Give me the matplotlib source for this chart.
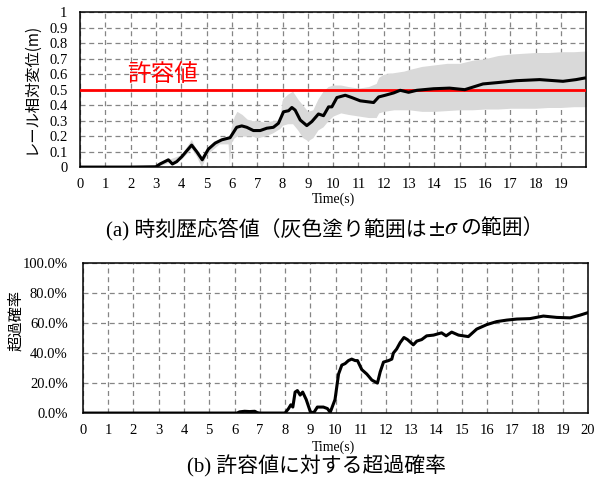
"""Rail relative displacement: time history with +/- sigma band, and exceedance probability."""
import matplotlib

matplotlib.use("Agg")
import matplotlib.pyplot as plt
from matplotlib.ticker import FuncFormatter, MultipleLocator, PercentFormatter

plt.rcParams.update({"font.family": ["Liberation Serif", "Noto Sans CJK JP"], "font.size": 10.5,
                     "mathtext.fontset": "stix"})
JP = ["Noto Sans CJK JP", "Liberation Serif"]

ALLOWABLE = 0.5

# mean response (m)
t_mean = [0, 2.0, 3.0, 3.16, 3.49, 3.65, 3.82, 4.02, 4.41, 4.61, 4.83, 5.07, 5.34, 5.6, 5.93,
          6.19, 6.39, 6.59, 6.85, 7.12, 7.38, 7.64, 7.84, 8.04, 8.24, 8.37, 8.5, 8.7, 8.96,
          9.16, 9.42, 9.62, 9.82, 9.95, 10.15, 10.48, 10.74, 11.07, 11.6, 11.8, 12.06, 12.39,
          12.65, 12.98, 13.31, 13.97, 14.6, 15.2, 15.92, 16.58, 17.24, 18.16, 19.08, 19.6, 19.93]
mean = [0, 0.0, 0.002, 0.02, 0.047, 0.02, 0.035, 0.067, 0.142, 0.10, 0.047, 0.116, 0.155, 0.176,
        0.19, 0.257, 0.266, 0.257, 0.236, 0.236, 0.251, 0.257, 0.283, 0.357, 0.364, 0.385, 0.368,
        0.304, 0.268, 0.294, 0.343, 0.332, 0.389, 0.389, 0.449, 0.464, 0.449, 0.428, 0.417, 0.453,
        0.464, 0.479, 0.496, 0.483, 0.496, 0.506, 0.51, 0.50, 0.537, 0.547, 0.558, 0.565, 0.554,
        0.565, 0.575]

# mean +/- sigma
t_band = [0, 3.0, 3.5, 4.0, 4.4, 4.6, 4.8, 5.0, 5.5, 5.85, 5.9, 5.95, 6.0, 6.1, 6.2, 6.4, 6.6,
          6.8, 7.0, 7.3, 7.6, 7.8, 7.9, 8.0, 8.2, 8.4, 8.6, 8.8, 9.0, 9.2, 9.4, 9.6, 9.8, 10.0,
          10.3, 10.6, 11.0, 11.4, 11.7, 11.8, 12.0, 12.4, 12.8, 13.0, 13.5, 14.0, 14.5, 15.0,
          15.5, 16.0, 16.5, 17.0, 17.5, 18.0, 18.5, 19.0, 19.5, 20.0]
band_hi = [0, 0.0, 0.05, 0.08, 0.18, 0.11, 0.06, 0.12, 0.17, 0.2, 0.2, 0.22, 0.28, 0.33, 0.36,
           0.34, 0.31, 0.30, 0.30, 0.29, 0.30, 0.30, 0.33, 0.44, 0.47, 0.49, 0.44, 0.40, 0.36,
           0.37, 0.44, 0.49, 0.52, 0.53, 0.53, 0.52, 0.51, 0.52, 0.54, 0.58, 0.60, 0.61, 0.62,
           0.63, 0.65, 0.66, 0.67, 0.67, 0.69, 0.70, 0.72, 0.73, 0.735, 0.74, 0.74, 0.745, 0.745,
           0.75]
band_lo = [0, 0.0, 0.03, 0.05, 0.12, 0.07, 0.0, 0.08, 0.15, 0.15, 0.02, 0.12, 0.17, 0.19, 0.2,
           0.2, 0.2, 0.2, 0.19, 0.2, 0.22, 0.24, 0.25, 0.27, 0.28, 0.28, 0.24, 0.19, 0.17, 0.19,
           0.24, 0.26, 0.30, 0.33, 0.35, 0.34, 0.33, 0.32, 0.32, 0.35, 0.36, 0.37, 0.37, 0.37,
           0.36, 0.36, 0.365, 0.37, 0.37, 0.375, 0.375, 0.38, 0.38, 0.38, 0.385, 0.385, 0.39, 0.39]

# probability of exceeding the allowable value (%)
t_prob = [0, 6.1, 6.2, 6.4, 6.6, 6.8, 6.9, 7.0, 8.0, 8.14, 8.23, 8.31, 8.4, 8.49, 8.6, 8.7, 8.84,
          9.0, 9.13, 9.28, 9.52, 9.68, 9.79, 9.98, 10.12, 10.25, 10.38, 10.51, 10.64, 10.78,
          10.87, 11.04, 11.24, 11.44, 11.66, 11.77, 11.9, 12.1, 12.23, 12.29, 12.42, 12.56, 12.71,
          12.85, 13.08, 13.22, 13.41, 13.61, 13.88, 14.2, 14.38, 14.6, 14.87, 15.26, 15.59, 15.99,
          16.38, 16.78, 17.18, 17.7, 18.23, 18.76, 19.29, 19.68, 20.0]
prob = [0, 0, 0.8, 1.2, 1.0, 1.2, 0.3, 0, 0, 3, 5.5, 4, 14, 15, 12, 14, 9, 1, 0, 4, 4, 3, 0.5, 9,
        26, 32, 33, 35, 36, 35, 35, 29, 26, 22, 20, 27.5, 34, 35, 36, 40, 42.7, 47, 50.4, 49,
        45.5, 48, 49, 51.5, 52, 53.5, 51.5, 54, 52, 51, 56, 59, 61, 62, 62.7, 63, 64.7, 63.8,
        63.5, 65.3, 67]


def style(ax):
    ax.set_xlim(0, 20)
    ax.xaxis.set_major_locator(MultipleLocator(1))
    ax.grid(True, color="#858585", ls=(0, (4, 3)), lw=0.9)
    ax.set_axisbelow(True)
    ax.tick_params(length=0, labelsize=10.5)
    ax.tick_params(axis="x", pad=8)
    for s in ax.spines.values():
        s.set_linewidth(1.1)


fig = plt.figure(figsize=(5.97, 4.90), dpi=100)

# (a) time history
ax1 = fig.add_axes([0.134, 0.659, 0.848, 0.316])
style(ax1)
ax1.fill_between(t_band, band_lo, band_hi, color="#d9d9d9", lw=0, zorder=1)
ax1.axhline(ALLOWABLE, color="#ff0000", lw=2, zorder=3)
ax1.plot(t_mean, mean, color="black", lw=2.2, zorder=4)
ax1.set_ylim(0, 1)
ax1.yaxis.set_major_locator(MultipleLocator(0.1))
ax1.yaxis.set_major_formatter(FuncFormatter(lambda v, _: f"{v:.1f}".rstrip("0").rstrip(".")))
ax1.xaxis.set_major_formatter(FuncFormatter(lambda v, _: "" if v >= 20 else f"{v:.0f}"))
ax1.tick_params(axis="y", pad=9)
ax1.text(3.25, 0.595, "許容値", color="#ff0000", fontsize=17, family=JP, ha="center",
         va="center")
fig.text(0.052, 0.82, "レール相対変位(m)", rotation=90, ha="center", va="center",
         fontsize=11, family=JP)
fig.text(0.558, 0.594, "Time(s)", ha="center", va="center", fontsize=10)

# caption (a): CJK pieces chained around the mathtext ±σ
cap = fig.text(0.178, 0.533, "(a) 時刻歴応答値（灰色塗り範囲は", ha="left", va="center",
               fontsize=15)
sig = plt.annotate(r"$\pm\sigma$", xy=(1, 0.5), xycoords=cap, xytext=(1, 0),
                   textcoords="offset points", ha="left", va="center", fontsize=17,
                   annotation_clip=False)
plt.annotate("の範囲）", xy=(1, 0.5), xycoords=sig, xytext=(1, 0), textcoords="offset points",
             ha="left", va="center", fontsize=15, annotation_clip=False)

# (b) exceedance probability
ax2 = fig.add_axes([0.139, 0.157, 0.846, 0.306])
style(ax2)
ax2.plot(t_prob, prob, color="black", lw=2.2)
ax2.set_ylim(0, 100)
ax2.yaxis.set_major_locator(MultipleLocator(20))
ax2.yaxis.set_major_formatter(PercentFormatter(decimals=1))
ax2.tick_params(axis="y", pad=11)
fig.text(0.027, 0.345, "超過確率", rotation=90, ha="center", va="center", fontsize=11, family=JP)
fig.text(0.558, 0.087, "Time(s)", ha="center", va="center", fontsize=10)
fig.text(0.53, 0.048, "(b) 許容値に対する超過確率", ha="center", va="center", fontsize=15)

fig.savefig("out.png")
